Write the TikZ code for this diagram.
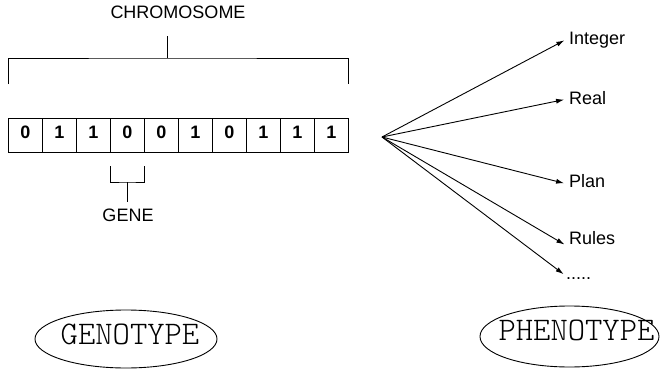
\documentclass[tikz,border=0pt]{standalone}
\usepackage{fontspec}
\setmainfont{Liberation Sans}
\newfontfamily\typefont{Latin Modern Mono Light}
\usetikzlibrary{positioning,arrows.meta}

\tikzstyle{cell} = [rectangle,draw=black,line width=0.9pt,minimum size=34pt,inner sep=0pt,outer sep=0pt,font=\fontsize{18}{20}\selectfont\bfseries]
\tikzstyle{lbl} = [inner sep=2pt,font=\fontsize{18}{20}\selectfont]
\tikzstyle{type} = [inner sep=0pt,font=\typefont\fontsize{33}{36}\selectfont]
\tikzstyle{wire} = [line width=0.9pt]

\begin{document}
\begin{tikzpicture}[x=1pt,y=-1pt,>={Latex[length=8pt,width=5pt]},text height=1.5ex,text depth=0.25ex]
	\useasboundingbox (0,0) rectangle (661,369);

	% the chromosome
	\node (c0) [cell] at (25.5,135) {0};
	\node (c1) [cell,right=0pt of c0] {1};
	\node (c2) [cell,right=0pt of c1] {1};
	\node (c3) [cell,right=0pt of c2] {0};
	\node (c4) [cell,right=0pt of c3] {0};
	\node (c5) [cell,right=0pt of c4] {1};
	\node (c6) [cell,right=0pt of c5] {0};
	\node (c7) [cell,right=0pt of c6] {1};
	\node (c8) [cell,right=0pt of c7] {1};
	\node (c9) [cell,right=0pt of c8] {1};

	\node (chrom) [lbl] at (178,15) {CHROMOSOME};
	\coordinate (bl) at (8.5,84);
	\coordinate (br) at (348,84);
	\coordinate (bm) at (167,58);
	\coordinate (bt) at (167,36);
	\draw[wire] (bl) |- (bm) -| (br);
	\draw[wire] (bm) -- (bt);

	% the gene
	\node (gene) [lbl] at (128,218) {GENE};
	\coordinate (gl) at (110.7,166);
	\coordinate (gr) at (144.3,166);
	\coordinate (gm) at (127.5,182);
	\coordinate (gb) at (127.5,202);
	\draw[wire] (gl) |- (gm) -| (gr);
	\draw[wire] (gm) -- (gb);

	% the decodings
	\coordinate (src) at (382,137);
	\node (int) [lbl,anchor=west] at (567,41) {Integer};
	\node (real) [lbl,anchor=west] at (567,101) {Real};
	\node (plan) [lbl,anchor=west] at (567,184) {Plan};
	\node (rules) [lbl,anchor=west] at (567,241) {Rules};
	\node (more) [lbl,anchor=west] at (564,276) {.....};

	\path[->,wire,shorten >=3pt]
		(src) edge ([yshift=2pt]int.west)
		(src) edge ([yshift=2pt]real.west)
		(src) edge (plan.west)
		(src) edge ([yshift=-5pt]rules.west)
		(src) edge ([xshift=2pt]more.west)
		;

	% genotype and phenotype
	\node (geno) [type] at (130,341) {GENOTYPE};
	\coordinate (genoc) at (126,339);
	\draw[wire] (genoc) ellipse [x radius=91pt,y radius=29pt];

	\node (pheno) [type] at (576.5,337) {PHENOTYPE};
	\coordinate (phenoc) at (569.5,336.5);
	\draw[wire] (phenoc) ellipse [x radius=89.5pt,y radius=30.5pt];

\end{tikzpicture}
\end{document}
